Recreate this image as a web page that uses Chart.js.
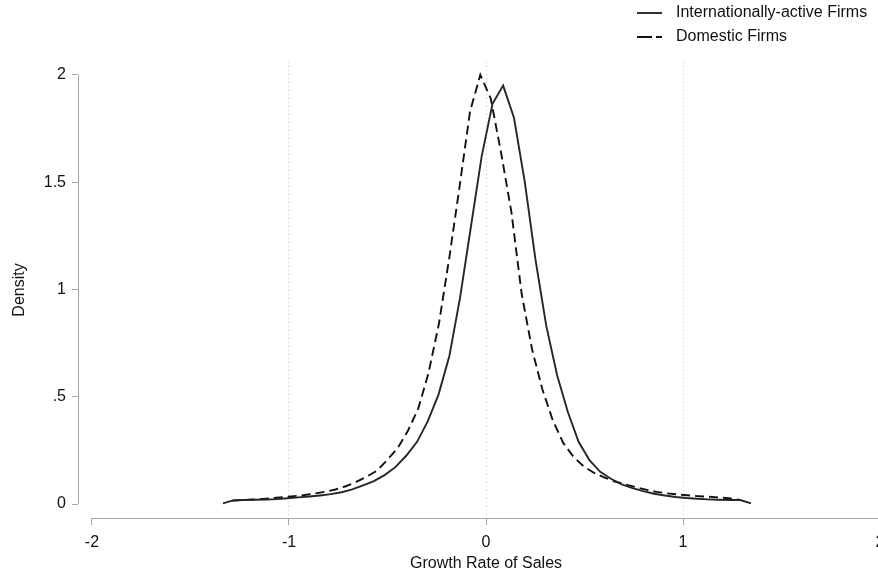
<!DOCTYPE html>
<html>
<head>
<meta charset="utf-8">
<script src="https://cdn.jsdelivr.net/npm/chart.js@4.4.0/dist/chart.umd.min.js"></script>
<style>
  html, body { margin: 0; padding: 0; background: #fff; overflow: hidden; }
  #wrap { width: 878px; height: 573px; overflow: hidden; position: relative; }
  #myChart { position: absolute; left: 0; top: 0; }
</style>
</head>
<body>
<div id="wrap"><canvas id="myChart" width="900" height="573"></canvas></div>
<script>
// kdensity grid + values
const xIntl = [-1.335, -1.280, -1.226, -1.171, -1.116, -1.062, -1.007, -0.952, -0.897, -0.843,
  -0.788, -0.733, -0.679, -0.624, -0.569, -0.515, -0.460, -0.405, -0.350, -0.296,
  -0.241, -0.186, -0.132, -0.077, -0.022, 0.033, 0.087, 0.142, 0.197, 0.251,
  0.306, 0.361, 0.415, 0.470, 0.525, 0.580, 0.634, 0.689, 0.744, 0.798,
  0.853, 0.908, 0.962, 1.017, 1.072, 1.126, 1.181, 1.236, 1.291, 1.345];
const intlDensity = [0.003, 0.018, 0.019, 0.020, 0.021, 0.023, 0.027, 0.031, 0.035, 0.040,
  0.046, 0.055, 0.068, 0.087, 0.107, 0.135, 0.172, 0.225, 0.29, 0.385,
  0.51, 0.69, 0.96, 1.29, 1.62, 1.865, 1.95, 1.80, 1.50, 1.14,
  0.83, 0.60, 0.43, 0.29, 0.205, 0.150, 0.118, 0.092, 0.074, 0.060,
  0.048, 0.040, 0.033, 0.028, 0.025, 0.022, 0.020, 0.019, 0.019, 0.003];

const xDom = [-1.290, -1.237, -1.185, -1.132, -1.080, -1.027, -0.975, -0.922, -0.870, -0.817,
  -0.764, -0.712, -0.659, -0.607, -0.554, -0.502, -0.449, -0.397, -0.344, -0.292,
  -0.239, -0.186, -0.134, -0.081, -0.029, 0.024, 0.076, 0.129, 0.181, 0.234,
  0.286, 0.339, 0.392, 0.444, 0.497, 0.549, 0.602, 0.654, 0.707, 0.759,
  0.812, 0.864, 0.917, 0.969, 1.022, 1.074, 1.127, 1.180, 1.232, 1.285];
const domDensity = [0.015, 0.019, 0.021, 0.024, 0.028, 0.032, 0.037, 0.042, 0.049, 0.057,
  0.068, 0.083, 0.103, 0.127, 0.155, 0.205, 0.26, 0.34, 0.445, 0.61,
  0.84, 1.15, 1.48, 1.83, 2.00, 1.89, 1.64, 1.36, 0.98, 0.72,
  0.535, 0.39, 0.285, 0.22, 0.175, 0.145, 0.123, 0.105, 0.092, 0.079,
  0.067, 0.057, 0.050, 0.045, 0.041, 0.037, 0.034, 0.031, 0.027, 0.020];

const seriesNames = ['Internationally-active Firms', 'Domestic Firms'];
const xTicks = [-2, -1, 0, 1, 2];
const yTicks = [0, 0.5, 1, 1.5, 2];
const yTickLabels = ['0', '.5', '1', '1.5', '2'];

const FONT = "'Liberation Sans', Arial, sans-serif";
const FONT_SIZE = 16;
const axisColor = '#a6a6a6';
const textColor = '#111';

const toPoints = (xs, ys) => xs.map((x, i) => ({ x: x, y: ys[i] }));

// Stata style axes: lines only span the tick range
const axisLines = {
  id: 'axisLines',
  afterDraw(chart) {
    const { ctx, chartArea, scales: { x, y } } = chart;
    ctx.save();
    ctx.strokeStyle = axisColor;
    ctx.lineWidth = 1;
    ctx.beginPath();
    ctx.moveTo(chartArea.left + 0.5, Math.round(y.getPixelForValue(yTicks[0])));
    ctx.lineTo(chartArea.left + 0.5, Math.round(y.getPixelForValue(yTicks[yTicks.length - 1])));
    ctx.moveTo(Math.round(x.getPixelForValue(xTicks[0])), chartArea.bottom + 0.5);
    ctx.lineTo(Math.round(x.getPixelForValue(xTicks[xTicks.length - 1])), chartArea.bottom + 0.5);
    ctx.stroke();
    ctx.restore();
  }
};

// legend: two rows top-right
const stataLegend = {
  id: 'stataLegend',
  afterDraw(chart) {
    const ctx = chart.ctx;
    ctx.save();
    chart.data.datasets.forEach((ds, i) => {
      const yy = 13 + i * 24;
      ctx.strokeStyle = ds.borderColor;
      ctx.lineWidth = ds.borderWidth;
      ctx.setLineDash(i === 1 ? [15, 4] : []);
      ctx.beginPath();
      ctx.moveTo(637, yy);
      ctx.lineTo(662, yy);
      ctx.stroke();
      ctx.setLineDash([]);
      ctx.fillStyle = textColor;
      ctx.font = FONT_SIZE + 'px ' + FONT;
      ctx.textBaseline = 'middle';
      ctx.textAlign = 'left';
      ctx.fillText(ds.label, 676, yy);
    });
    ctx.restore();
  }
};

const ctx = document.getElementById('myChart').getContext('2d');
const chart = new Chart(ctx, {
  type: 'line',
  data: {
    datasets: [
      {
        label: seriesNames[0],
        data: toPoints(xIntl, intlDensity),
        borderColor: '#262626',
        borderWidth: 1.9,
        pointRadius: 0,
        tension: 0,
        fill: false
      },
      {
        label: seriesNames[1],
        data: toPoints(xDom, domDensity),
        borderColor: '#111',
        borderWidth: 1.9,
        borderDash: [9, 5],
        pointRadius: 0,
        tension: 0,
        fill: false
      }
    ]
  },
  options: {
    responsive: false,
    animation: false,
    layout: { padding: { top: 62, right: 6, bottom: 0, left: 0 } },
    plugins: {
      legend: { display: false },
      tooltip: { enabled: false }
    },
    scales: {
      x: {
        type: 'linear',
        min: -2.071,
        max: 2.071,
        afterBuildTicks: (scale) => { scale.ticks = xTicks.map(v => ({ value: v })); },
        afterFit: (scale) => { scale.height = 55; },
        border: { display: false, dash: [1, 3] },
        grid: {
          drawOnChartArea: true,
          drawTicks: true,
          tickLength: 7,
          tickColor: axisColor,
          tickBorderDash: [],
          lineWidth: 1,
          color: (c) => (c.tick && Math.abs(c.tick.value) < 1.5 ? '#c4c4c4' : 'rgba(0,0,0,0)')
        },
        ticks: {
          padding: 8,
          color: textColor,
          font: { family: FONT, size: FONT_SIZE },
          maxRotation: 0,
          autoSkip: false,
          callback: (v) => String(v)
        },
        title: {
          display: true,
          text: 'Growth Rate of Sales',
          color: textColor,
          font: { family: FONT, size: FONT_SIZE },
          padding: { top: 0, bottom: 0 }
        }
      },
      y: {
        type: 'linear',
        min: -0.065,
        max: 2.06,
        afterBuildTicks: (scale) => { scale.ticks = yTicks.map(v => ({ value: v })); },
        afterFit: (scale) => { scale.width = 78; },
        border: { display: false },
        grid: {
          drawOnChartArea: false,
          drawTicks: true,
          tickLength: 6,
          tickColor: axisColor
        },
        ticks: {
          padding: 6,
          color: textColor,
          font: { family: FONT, size: FONT_SIZE },
          callback: (v) => yTickLabels[yTicks.indexOf(v)]
        },
        title: {
          display: true,
          text: 'Density',
          color: textColor,
          font: { family: FONT, size: FONT_SIZE },
          padding: { top: 10, bottom: 0 }
        }
      }
    }
  },
  plugins: [axisLines, stataLegend]
});
</script>
</body>
</html>
